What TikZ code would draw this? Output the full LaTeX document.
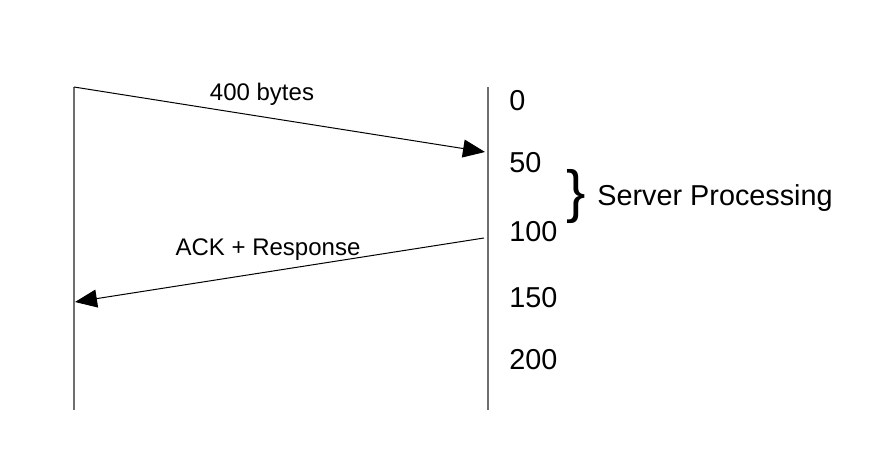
\documentclass[tikz,border=0pt]{standalone}
\usepackage{fontspec}
\setmainfont{Liberation Sans}
\usetikzlibrary{positioning,arrows.meta}
\definecolor{colorline}{RGB}{110,110,110}
\definecolor{colortext}{RGB}{ 0, 0, 0}

\begin{document}
\begin{tikzpicture}[
    x=0.5pt, y=-0.5pt,
    timeline/.style={colorline,line width=0.7pt},
    msg/.style={draw=colortext,line width=0.5pt,-{Triangle[length=11pt,width=9pt]}},
    msglabel/.style={text=colortext,font={\fontsize{12}{14}\selectfont},inner sep=0pt},
    tick/.style={text=colortext,font={\fontsize{14.4}{16}\selectfont},inner sep=0pt,anchor=west},
]
    \useasboundingbox (0,0) rectangle (878,470);

    % timelines
    \coordinate (clienttop) at (74,87);
    \coordinate (clientbot) at (74,410);
    \coordinate (servertop) at (488,87);
    \coordinate (serverbot) at (488,410);
    \draw[timeline] (clienttop) -- (clientbot);
    \draw[timeline] (servertop) -- (serverbot);

    % messages
    \coordinate (reqend)   at (485,152);
    \coordinate (respstart) at (484,238);
    \coordinate (respend)  at (75,302);
    \draw[msg] (clienttop) -- (reqend);
    \draw[msg] (respstart) -- (respend);
    \node[msglabel] (reqlabel)  at (262,94)  {400 bytes};
    \node[msglabel] (resplabel) at (268,250) {ACK + Response};

    % time scale
    \node[tick] (t0)   at (509,101) {0};
    \node[tick] (t50)  at (509,163) {50};
    \node[tick] (t100) at (509,232) {100};
    \node[tick] (t150) at (509,298) {150};
    \node[tick] (t200) at (509,360) {200};

    \node[text=colortext,font={\fontsize{29}{29}\selectfont},inner sep=0pt] (brace) at (576,197) {\}};
    \node[tick] (server) at (597,198) {Server Processing};

\end{tikzpicture}
\end{document}
